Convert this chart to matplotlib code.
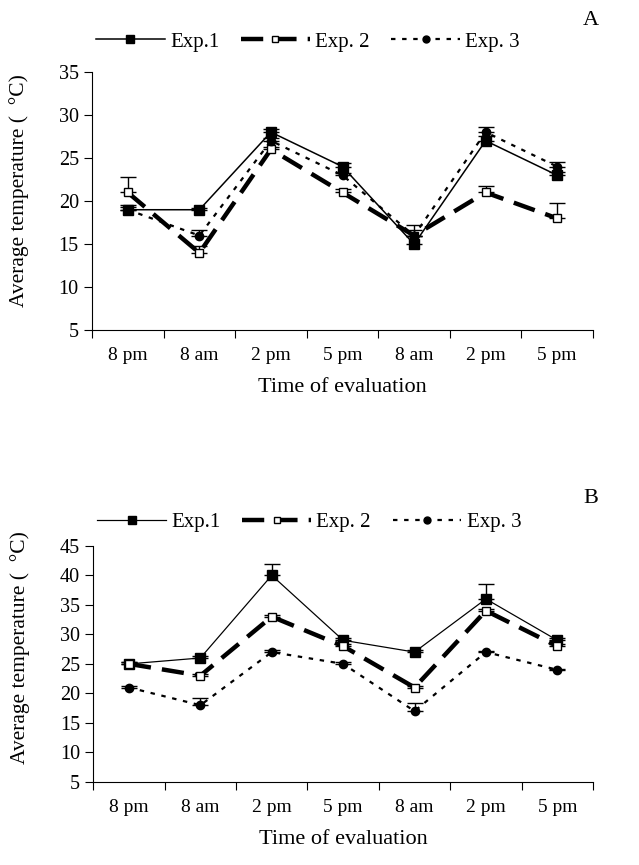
import numpy as np
import matplotlib
matplotlib.use("Agg")
import matplotlib.pyplot as plt
from matplotlib.lines import Line2D

plt.rcParams['font.family'] = ['Liberation Serif', 'DejaVu Serif']

# time points on the x axis
times = ['8 pm', '8 am', '2 pm', '5 pm', '8 am', '2 pm', '5 pm']

# panel A values (average temperature, deg C) and upper error bars
a_exp1 = [19, 19, 28, 24, 15, 27, 23]
a_exp1_err = [0.6, 0.2, 0.4, 0.4, 1.0, 0.5, 0.4]
a_exp2 = [21, 14, 26, 21, 16, 21, 18]
a_exp2_err = [1.8, 0.8, 0.3, 0.4, 1.2, 0.8, 1.8]
a_exp3 = [19, 16, 27, 23, 16, 28, 24]
a_exp3_err = [0.3, 0.6, 0.3, 0.3, 0.6, 0.6, 0.5]

# panel B values
b_exp1 = [25, 26, 40, 29, 27, 36, 29]
b_exp1_err = [0.3, 0.3, 2.0, 0.4, 0.3, 2.6, 0.4]
b_exp2 = [25, 23, 33, 28, 21, 34, 28]
b_exp2_err = [0.3, 0.3, 0.3, 0.3, 0.3, 0.3, 0.3]
b_exp3 = [21, 18, 27, 25, 17, 27, 24]
b_exp3_err = [0.2, 1.2, 0.3, 0.3, 1.3, 0.2, 0.2]

labels = ['Exp.1', 'Exp. 2', 'Exp. 3']
linestyles = ['-', (0, (5, 2.5)), (0, (2, 3))]
markers = ['s', 's', 'o']
facecolors = ['black', 'white', 'black']
msizes = [7, 6, 6]
widths = [1.1, 3.2, 1.6]


def draw_panel(ax, series, errs, ylim, yticks, letter, leg_y, lab_y, thin=1.0):
    x = np.arange(len(times))
    handles = []
    for i, (vals, err) in enumerate(zip(series, errs)):
        lw = widths[i] if i else widths[i] * thin
        ax.errorbar(x, vals, yerr=[np.zeros(len(err)), err], color='black',
                    ecolor='black', elinewidth=1, capsize=6, capthick=1,
                    linewidth=lw, linestyle=linestyles[i], marker=markers[i],
                    markerfacecolor=facecolors[i], markeredgecolor='black',
                    markersize=msizes[i])
        handles.append(Line2D([], [], color='black', linewidth=lw,
                              linestyle=linestyles[i], marker=markers[i],
                              markerfacecolor=facecolors[i],
                              markeredgecolor='black', markersize=msizes[i] - 1,
                              label=labels[i]))
    ax.set_xlim(-0.5, len(times) - 0.5)
    ax.set_ylim(*ylim)
    ax.set_yticks(yticks)
    ax.set_xticks(np.arange(len(times) + 1) - 0.5)
    ax.set_xticklabels([])
    ax.set_xticks(x, minor=True)
    ax.set_xticklabels(times, minor=True)
    ax.tick_params(axis='x', which='minor', length=0, pad=12, labelsize=14)
    ax.tick_params(axis='x', which='major', length=6, direction='out')
    ax.tick_params(axis='y', length=6, direction='out', labelsize=14.5)
    for s in ['top', 'right']:
        ax.spines[s].set_visible(False)
    ax.set_ylabel('Average temperature (  \u00b0C)', fontsize=15.5)
    ax.yaxis.set_label_coords(-0.126, lab_y)
    ax.set_xlabel('Time of evaluation', fontsize=16, labelpad=10)
    ax.legend(handles=handles, loc='center left', bbox_to_anchor=(0.008, leg_y),
              ncol=3, frameon=False, handlelength=3.3, columnspacing=1.05,
              handletextpad=0.25, fontsize=15, borderaxespad=0, borderpad=0)
    ax.text(0.996, 1.2, letter, transform=ax.transAxes, fontsize=16,
            ha='center', va='center')


fig = plt.figure(figsize=(6.39, 8.65), dpi=100)
ax_a = fig.add_axes([0.144, 0.618, 0.784, 0.299])
ax_b = fig.add_axes([0.146, 0.096, 0.782, 0.273])

draw_panel(ax_a, [a_exp1, a_exp2, a_exp3], [a_exp1_err, a_exp2_err, a_exp3_err],
           (5, 35), range(5, 36, 5), 'A', 1.116, 0.54)
draw_panel(ax_b, [b_exp1, b_exp2, b_exp3], [b_exp1_err, b_exp2_err, b_exp3_err],
           (5, 45), range(5, 46, 5), 'B', 1.10, 0.57, thin=0.8)

fig.savefig('out.png', dpi=100)
